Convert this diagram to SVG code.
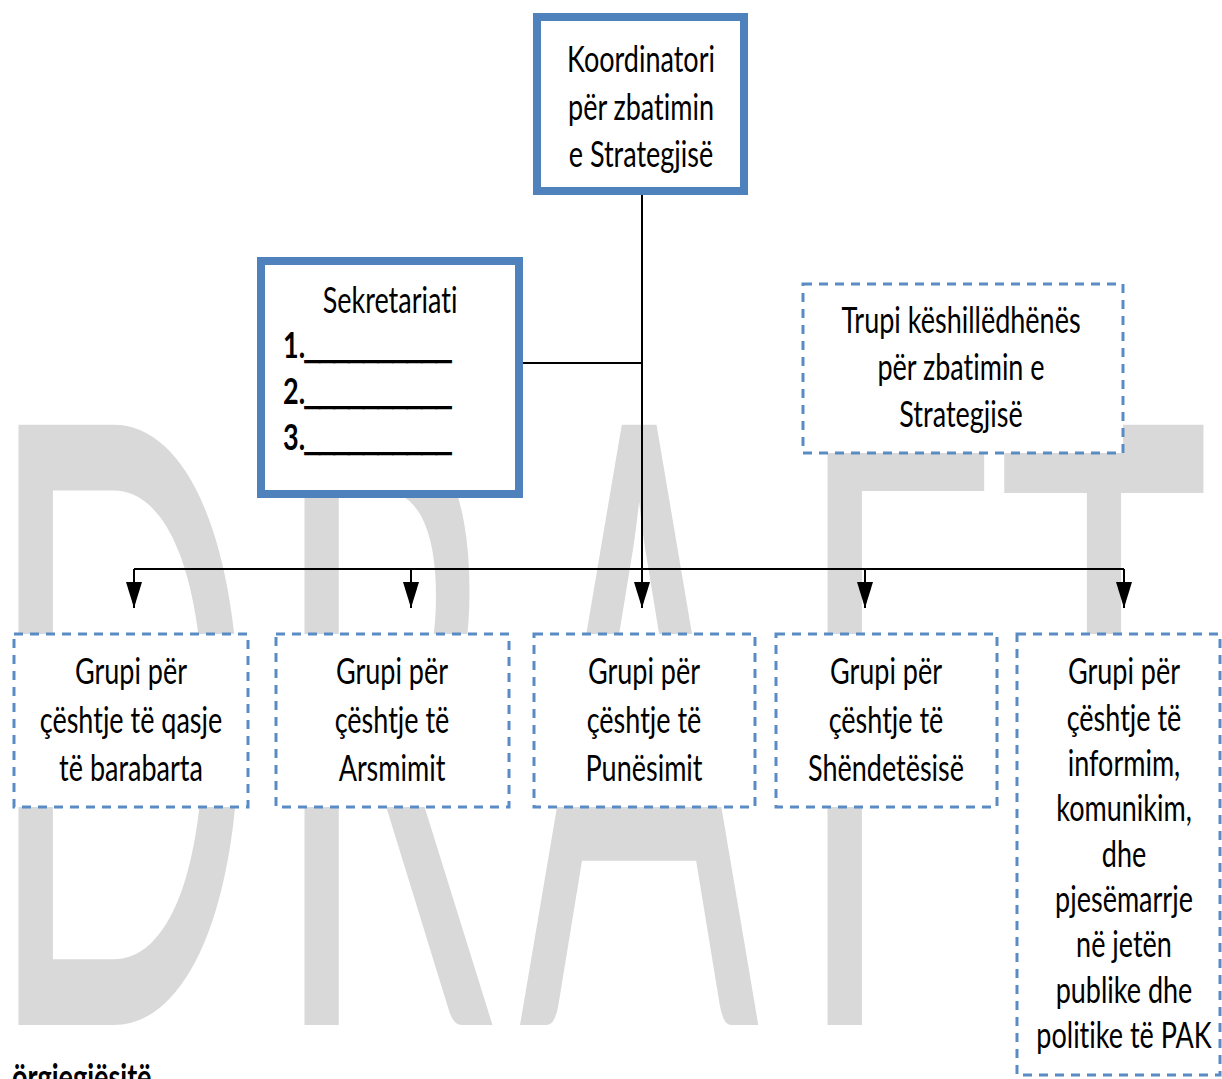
<svg xmlns="http://www.w3.org/2000/svg" width="1222" height="1079" viewBox="0 0 1222 1079">
<style>
.wm{font-family:Lato,"Liberation Sans",sans-serif;font-size:355px;fill:#d9d9d9}
.t{font-family:Lato,"Open Sans",sans-serif;font-size:27px;fill:#000;text-anchor:middle;font-variant-ligatures:none;font-feature-settings:"liga" 0,"clig" 0}
.b{font-weight:bold}
.u{font-family:"Liberation Sans",Arial,sans-serif;stroke:#000;stroke-width:1.3}
.solid{fill:#fff;stroke:#4f81bd;stroke-width:8}
.dash{fill:#fff;stroke:#5b8bc4;stroke-width:3;stroke-dasharray:9 7}
.conn{stroke:#000;stroke-width:2;fill:none}
.arr{stroke:#000;stroke-width:2;fill:none;marker-end:url(#ah)}
</style>
<defs>
<marker id="ah" markerUnits="userSpaceOnUse" markerWidth="26" markerHeight="16" refX="26" refY="8" orient="auto">
<path d="M0,0 L26,8 L0,16 Z" fill="#000"/>
</marker>
</defs>
<rect width="1222" height="1079" fill="#fff"/>
<g id="watermark">
<text class="wm" transform="translate(0,1025) scale(1,2.36)" x="-14 272 519 795 999" y="0">DRAFT</text>
</g>
<g id="connectors">
<line class="conn" x1="642" y1="195" x2="642" y2="569"/>
<line class="conn" x1="523" y1="363" x2="642" y2="363"/>
<line class="conn" x1="134" y1="569" x2="1124" y2="569"/>
<line class="arr" x1="134" y1="569" x2="134" y2="608"/>
<line class="arr" x1="411" y1="569" x2="411" y2="608"/>
<line class="arr" x1="642" y1="569" x2="642" y2="608"/>
<line class="arr" x1="865" y1="569" x2="865" y2="608"/>
<line class="arr" x1="1124" y1="569" x2="1124" y2="608"/>
</g>
<g id="koordinatori">
<rect class="solid" x="537" y="17" width="207" height="174"/>
<text class="t" transform="translate(641,72) scale(1,1.36)"><tspan x="0" y="0">Koordinatori</tspan><tspan x="0" dy="35">për zbatimin</tspan><tspan x="0" dy="35">e Strategjisë</tspan></text>
</g>
<g id="sekretariati">
<rect class="solid" x="261" y="261" width="258" height="233"/>
<text class="t" transform="translate(390,313) scale(1,1.36)">Sekretariati</text>
<text class="t b" style="text-anchor:start" transform="translate(283,358) scale(1,1.36)">1.<tspan class="u" textLength="146" lengthAdjust="spacingAndGlyphs">__________</tspan></text>
<text class="t b" style="text-anchor:start" transform="translate(283,404) scale(1,1.36)">2.<tspan class="u" textLength="146" lengthAdjust="spacingAndGlyphs">__________</tspan></text>
<text class="t b" style="text-anchor:start" transform="translate(283,450) scale(1,1.36)">3.<tspan class="u" textLength="146" lengthAdjust="spacingAndGlyphs">__________</tspan></text>
</g>
<g id="trupi">
<rect class="dash" x="803" y="284" width="320" height="169"/>
<text class="t" transform="translate(961,333) scale(1,1.36)"><tspan x="0" y="0">Trupi këshillëdhënës</tspan><tspan x="0" dy="34.5">për zbatimin e</tspan><tspan x="0" dy="34.5">Strategjisë</tspan></text>
</g>
<g id="grupi-qasje">
<rect class="dash" x="14" y="634" width="234" height="173"/>
<text class="t" transform="translate(131,684) scale(1,1.36)"><tspan x="0" y="0">Grupi për</tspan><tspan x="0" dy="35.7">çështje të qasje</tspan><tspan x="0" dy="35.7">të barabarta</tspan></text>
</g>
<g id="grupi-arsimit">
<rect class="dash" x="276" y="634" width="233" height="173"/>
<text class="t" transform="translate(392,684) scale(1,1.36)"><tspan x="0" y="0">Grupi për</tspan><tspan x="0" dy="35.7">çështje të</tspan><tspan x="0" dy="35.7">Arsmimit</tspan></text>
</g>
<g id="grupi-punesimit">
<rect class="dash" x="534" y="634" width="221" height="173"/>
<text class="t" transform="translate(644,684) scale(1,1.36)"><tspan x="0" y="0">Grupi për</tspan><tspan x="0" dy="35.7">çështje të</tspan><tspan x="0" dy="35.7">Punësimit</tspan></text>
</g>
<g id="grupi-shendetesise">
<rect class="dash" x="776" y="634" width="221" height="173"/>
<text class="t" transform="translate(886,684) scale(1,1.36)"><tspan x="0" y="0">Grupi për</tspan><tspan x="0" dy="35.7">çështje të</tspan><tspan x="0" dy="35.7">Shëndetësisë</tspan></text>
</g>
<g id="grupi-informim">
<rect class="dash" x="1017" y="634" width="203" height="441"/>
<text class="t" transform="translate(1124,684) scale(1,1.36)"><tspan x="0" y="0">Grupi për</tspan><tspan x="0" dy="34.5">çështje të</tspan><tspan x="0" dy="33.3">informim,</tspan><tspan x="0" dy="33.3">komunikim,</tspan><tspan x="0" dy="33.3">dhe</tspan><tspan x="0" dy="33.3">pjesëmarrje</tspan><tspan x="0" dy="33.3">në jetën</tspan><tspan x="0" dy="33.3">publike dhe</tspan><tspan x="0" dy="33.3">politike të PAK</tspan></text>
</g>
<text class="t b" style="text-anchor:start" transform="translate(12,1090) scale(1,1.36)">örgjegjësitë</text>
</svg>
